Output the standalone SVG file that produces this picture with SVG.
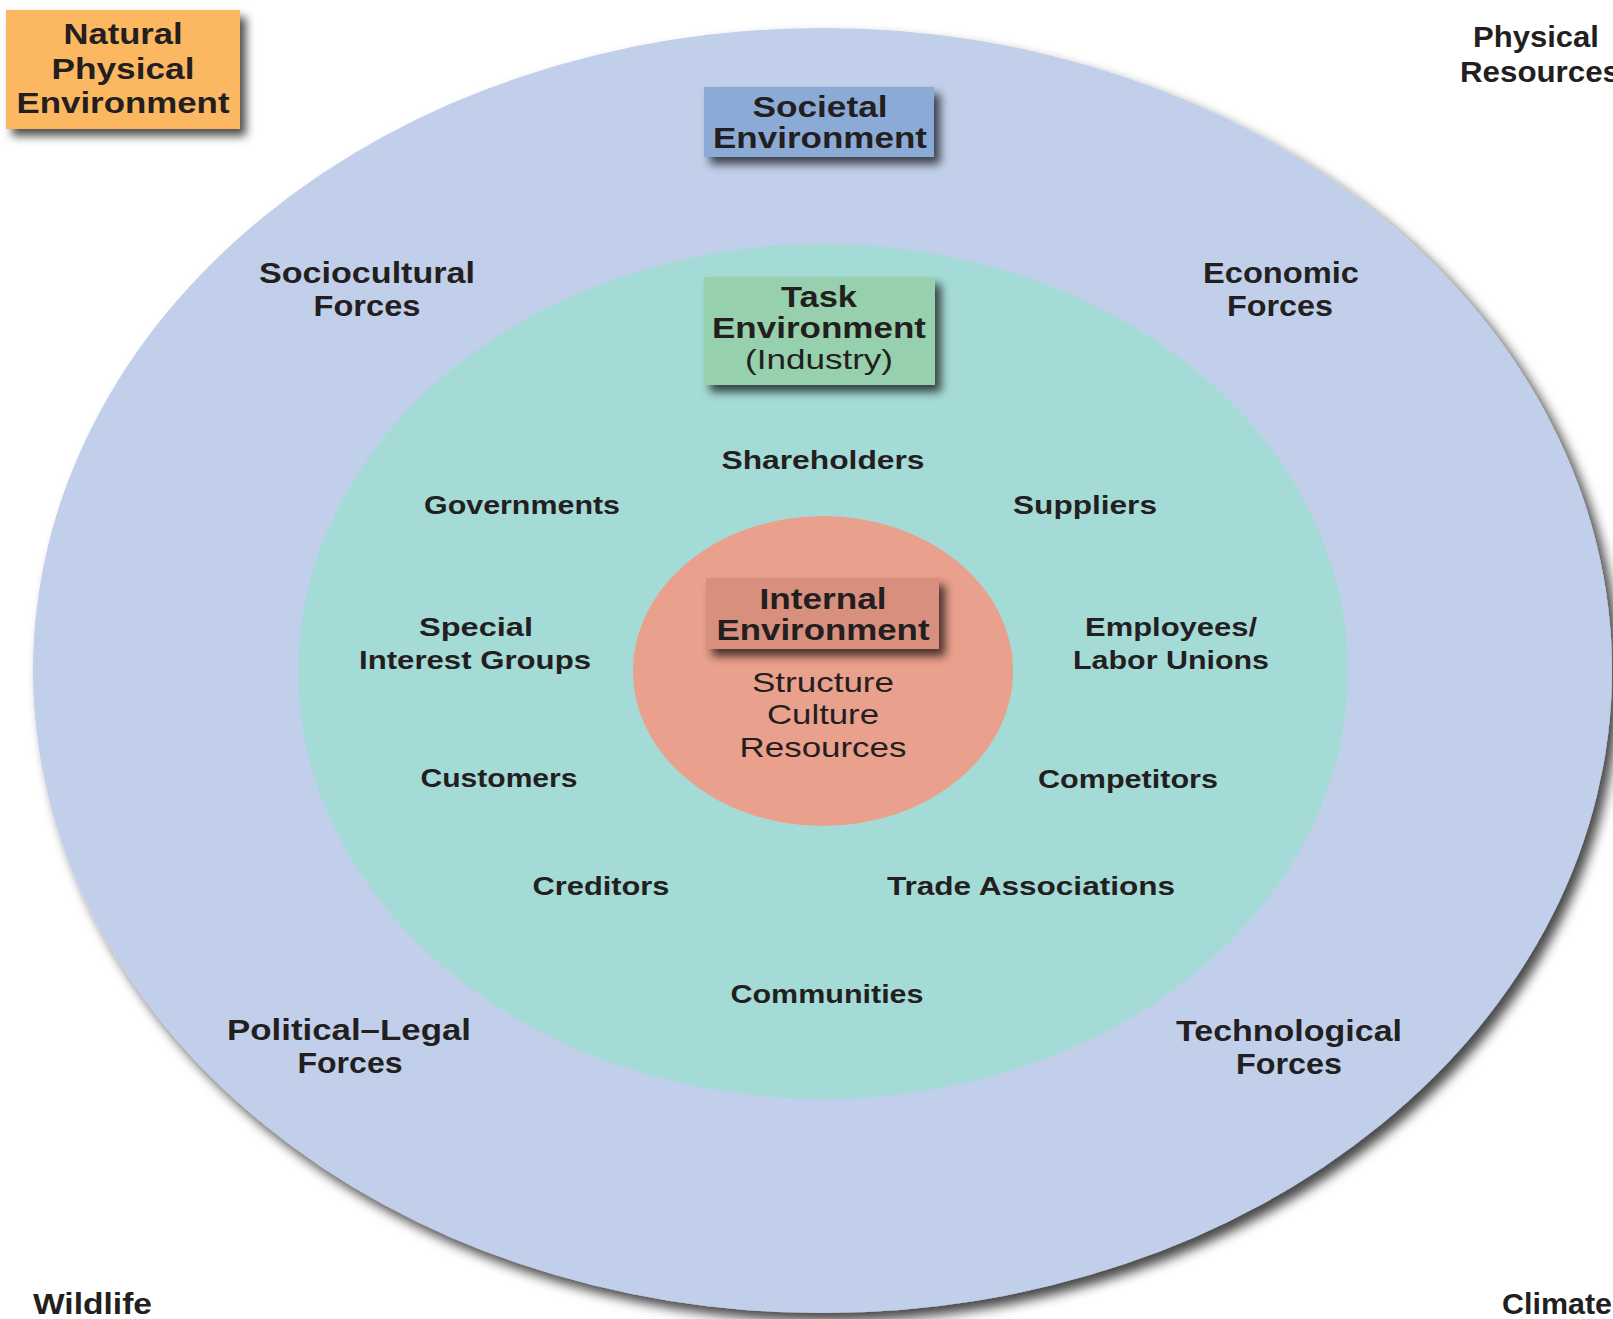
<svg xmlns="http://www.w3.org/2000/svg" width="1613" height="1319" viewBox="0 0 1613 1319">
  <defs>
    <filter id="shadowBig" x="-10%" y="-10%" width="120%" height="120%">
      <feGaussianBlur in="SourceAlpha" stdDeviation="6"/>
      <feOffset dx="7" dy="8" result="b"/>
      <feFlood flood-color="#000" flood-opacity="0.72"/>
      <feComposite in2="b" operator="in"/>
      <feMerge><feMergeNode/><feMergeNode in="SourceGraphic"/></feMerge>
    </filter>
    <filter id="shadowBox" x="-20%" y="-30%" width="150%" height="170%">
      <feGaussianBlur in="SourceAlpha" stdDeviation="5"/>
      <feOffset dx="6" dy="7" result="b"/>
      <feFlood flood-color="#000" flood-opacity="0.7"/>
      <feComposite in2="b" operator="in"/>
      <feMerge><feMergeNode/><feMergeNode in="SourceGraphic"/></feMerge>
    </filter>
  </defs>
  <style>
    text { font-family: "Liberation Sans", Arial, sans-serif; fill: #231f20; text-anchor: middle; }
    .title { font-size: 29px; font-weight: bold; }
    .force { font-size: 29px; font-weight: bold; }
    .task { font-size: 25px; font-weight: bold; }
    .reg { font-size: 28px; font-weight: normal; }
  </style>
  <rect width="1613" height="1319" fill="#ffffff"/>

  <g id="societal-ellipse">
    <ellipse cx="822.5" cy="670.5" rx="789.5" ry="642.5" fill="#c1cfea" filter="url(#shadowBig)"/>
  </g>
  <g id="task-ellipse">
    <ellipse cx="823" cy="671.5" rx="525" ry="427.5" fill="#a5dbd7"/>
  </g>
  <g id="internal-ellipse">
    <ellipse cx="823" cy="671" rx="190" ry="155" fill="#e9a08c"/>
  </g>

  <g id="connectors"></g>

  <g id="natural-physical-environment">
    <rect x="6" y="10" width="234" height="119" fill="#fcb861" filter="url(#shadowBox)"/>
    <text class="title" x="123" y="44" textLength="119" lengthAdjust="spacingAndGlyphs">Natural</text>
    <text class="title" x="123" y="79" textLength="143" lengthAdjust="spacingAndGlyphs">Physical</text>
    <text class="title" x="123" y="113" textLength="213" lengthAdjust="spacingAndGlyphs">Environment</text>
  </g>

  <g id="societal-environment">
    <rect x="704" y="87" width="230" height="70" fill="#8baad6" filter="url(#shadowBox)"/>
    <text class="title" x="820" y="117" textLength="135" lengthAdjust="spacingAndGlyphs">Societal</text>
    <text class="title" x="820" y="148" textLength="214" lengthAdjust="spacingAndGlyphs">Environment</text>
  </g>

  <g id="task-environment">
    <rect x="704" y="277" width="231" height="108" fill="#96d0ac" filter="url(#shadowBox)"/>
    <text class="title" x="819" y="307" textLength="76" lengthAdjust="spacingAndGlyphs">Task</text>
    <text class="title" x="819" y="338" textLength="214" lengthAdjust="spacingAndGlyphs">Environment</text>
    <text class="reg" x="819" y="369" textLength="148" lengthAdjust="spacingAndGlyphs">(Industry)</text>
  </g>

  <g id="internal-environment">
    <rect x="706" y="578" width="233" height="71" fill="#d88f7e" filter="url(#shadowBox)"/>
    <text class="title" x="823" y="609" textLength="127" lengthAdjust="spacingAndGlyphs">Internal</text>
    <text class="title" x="823" y="640" textLength="213" lengthAdjust="spacingAndGlyphs">Environment</text>
    <text class="reg" x="823" y="692" textLength="142" lengthAdjust="spacingAndGlyphs">Structure</text>
    <text class="reg" x="823" y="724" textLength="112" lengthAdjust="spacingAndGlyphs">Culture</text>
    <text class="reg" x="823" y="757" textLength="167" lengthAdjust="spacingAndGlyphs">Resources</text>
  </g>

  <g id="physical-resources">
    <text class="force" x="1536" y="47" textLength="126" lengthAdjust="spacingAndGlyphs">Physical</text>
    <text class="force" x="1460" y="82" style="text-anchor:start" textLength="160" lengthAdjust="spacingAndGlyphs">Resources</text>
  </g>
  <g id="wildlife">
    <text class="force" x="33" y="1314" style="text-anchor:start" textLength="119" lengthAdjust="spacingAndGlyphs">Wildlife</text>
  </g>
  <g id="climate">
    <text class="force" x="1502" y="1314" style="text-anchor:start" textLength="110" lengthAdjust="spacingAndGlyphs">Climate</text>
  </g>

  <g id="sociocultural-forces">
    <text class="force" x="367" y="283" textLength="216" lengthAdjust="spacingAndGlyphs">Sociocultural</text>
    <text class="force" x="367" y="316" textLength="107" lengthAdjust="spacingAndGlyphs">Forces</text>
  </g>
  <g id="economic-forces">
    <text class="force" x="1281" y="283" textLength="156" lengthAdjust="spacingAndGlyphs">Economic</text>
    <text class="force" x="1280" y="316" textLength="106" lengthAdjust="spacingAndGlyphs">Forces</text>
  </g>
  <g id="political-legal-forces">
    <text class="force" x="349" y="1040" textLength="244" lengthAdjust="spacingAndGlyphs">Political–Legal</text>
    <text class="force" x="350" y="1073" textLength="105" lengthAdjust="spacingAndGlyphs">Forces</text>
  </g>
  <g id="technological-forces">
    <text class="force" x="1289" y="1041" textLength="226" lengthAdjust="spacingAndGlyphs">Technological</text>
    <text class="force" x="1289" y="1074" textLength="106" lengthAdjust="spacingAndGlyphs">Forces</text>
  </g>

  <g id="shareholders"><text class="task" x="823" y="469" textLength="203" lengthAdjust="spacingAndGlyphs">Shareholders</text></g>
  <g id="governments"><text class="task" x="522" y="514" textLength="196" lengthAdjust="spacingAndGlyphs">Governments</text></g>
  <g id="suppliers"><text class="task" x="1085" y="514" textLength="144" lengthAdjust="spacingAndGlyphs">Suppliers</text></g>
  <g id="special-interest-groups">
    <text class="task" x="476" y="636" textLength="114" lengthAdjust="spacingAndGlyphs">Special</text>
    <text class="task" x="475" y="669" textLength="232" lengthAdjust="spacingAndGlyphs">Interest Groups</text>
  </g>
  <g id="employees-labor-unions">
    <text class="task" x="1171" y="636" textLength="172" lengthAdjust="spacingAndGlyphs">Employees/</text>
    <text class="task" x="1171" y="669" textLength="196" lengthAdjust="spacingAndGlyphs">Labor Unions</text>
  </g>
  <g id="customers"><text class="task" x="499" y="787" textLength="157" lengthAdjust="spacingAndGlyphs">Customers</text></g>
  <g id="competitors"><text class="task" x="1128" y="788" textLength="180" lengthAdjust="spacingAndGlyphs">Competitors</text></g>
  <g id="creditors"><text class="task" x="601" y="895" textLength="137" lengthAdjust="spacingAndGlyphs">Creditors</text></g>
  <g id="trade-associations"><text class="task" x="1031" y="895" textLength="288" lengthAdjust="spacingAndGlyphs">Trade Associations</text></g>
  <g id="communities"><text class="task" x="827" y="1003" textLength="193" lengthAdjust="spacingAndGlyphs">Communities</text></g>
</svg>
